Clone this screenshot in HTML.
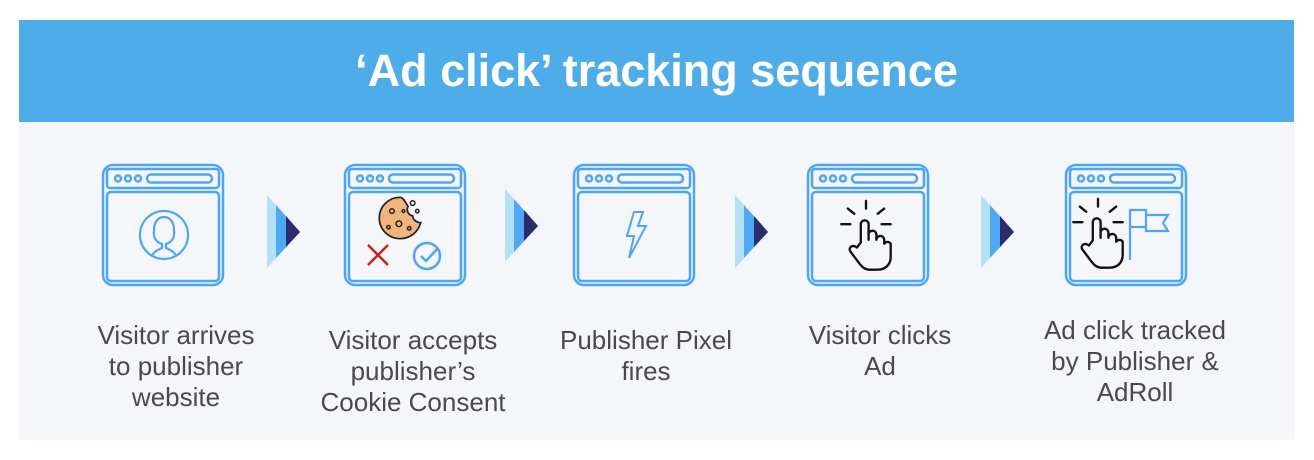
<!DOCTYPE html>
<html><head><meta charset="utf-8"><style>
body{margin:0;width:1314px;height:460px;background:#fff;position:relative;overflow:hidden;font-family:"Liberation Sans",sans-serif}
.hdr{position:absolute;left:19px;top:20px;width:1275px;height:102px;background:#4EACE8;color:#fff;font-weight:bold;font-size:45px;text-align:center;line-height:102px}
.body{position:absolute;left:19px;top:122px;width:1275px;height:318px;background:#F4F6FA}
.t{position:absolute;width:260px;text-align:center;font-size:26px;line-height:31px;color:#4a4a4a}
svg{position:absolute;left:0;top:0}
</style></head><body>
<div class="hdr">‘Ad click’ tracking sequence</div>
<div class="body"></div>
<svg width="1314" height="460">
<defs>
<g id="win" fill="none" stroke="#4DA6F5" stroke-width="2.5">
<rect x="0" y="0" width="120" height="120" rx="10"/>
<rect x="4" y="4" width="112" height="19" rx="3"/>
<rect x="4" y="27" width="112" height="89" rx="4"/>
<circle cx="15" cy="13.5" r="3"/><circle cx="25" cy="13.5" r="3"/><circle cx="35" cy="13.5" r="3"/>
<rect x="44" y="9.5" width="65" height="8" rx="4"/>
</g>
<g id="arr">
<polygon points="0,0 0,73 33,37" fill="#B3E0F5"/>
<polygon points="9,10 9,63 33,37" fill="#4EA8F3"/>
<polygon points="19,21 19,52 33,37" fill="#2B2C6B"/>
</g>
<g id="hand" fill="none" stroke="#111" stroke-width="1.8" stroke-linecap="round" stroke-linejoin="round">
<path d="M0,-18 v-6 M-9,-14 l-5,-4 M9,-14 l5,-4 M-12,-6 h-7 M12,-6 h7"/>
<path d="M-4,8 v-14 a3,3 0 0 1 6,0 v12 v-4 a3,3 0 0 1 6,0 v4 a3,3 0 0 1 6,0 v3 a3,3 0 0 1 5,0 v10 c0,6 -4,10 -10,10 h-6 c-4,0 -6,-2 -9,-6 l-6,-8 c-2,-3 2,-6 5,-3 z"/>
</g>
</defs>
<use href="#win" x="103" y="165"/>
<use href="#win" x="345" y="165"/>
<use href="#win" x="574" y="165"/>
<use href="#win" x="808" y="165"/>
<use href="#win" x="1066" y="165"/>
<use href="#arr" x="267" y="195"/>
<use href="#arr" x="505" y="189"/>
<use href="#arr" x="735" y="195"/>
<use href="#arr" x="981" y="195"/>
<g fill="none" stroke="#4DA6F5" stroke-width="2.2">
<circle cx="164" cy="235" r="24"/>
<path d="M152,256 c2,-5 6,-6 10,-8 v-4 c-6,-2 -9,-6 -8,-14 c0,-9 5,-13 10,-13 c5,0 10,4 10,13 c1,8 -2,12 -8,14 v4 c4,2 8,3 10,8"/>
</g>
<g transform="translate(400,218) scale(1.15) translate(-400,-218)">
<path d="M400,200 c-10,0 -18,8 -18,18 c0,10 8,18 18,18 c9,0 16,-6 18,-14 c-4,0 -7,-3 -7,-6 c-3,0 -6,-4 -4,-8 c-2,-3 -4,-8 -7,-8 z" fill="#F0B57A" stroke="#222" stroke-width="1.5"/>
<g fill="none" stroke="#222" stroke-width="1.3"><circle cx="393" cy="212" r="2"/><circle cx="399" cy="223" r="2.5"/><circle cx="390" cy="226" r="1.5"/><circle cx="403" cy="212" r="1.2"/><circle cx="411" cy="205" r="2"/><circle cx="415" cy="212" r="1.5"/><circle cx="408" cy="227" r="1.5"/></g>
</g>
<path d="M368,245 l20,20 M388,245 l-20,20" stroke="#C8231E" stroke-width="2.5"/>
<circle cx="427" cy="256" r="13" fill="none" stroke="#4DA6F5" stroke-width="2.5"/>
<path d="M421,256 l5,5 l12,-13" fill="none" stroke="#4DA6F5" stroke-width="2.5"/>
<path d="M634,212 h9 l-5,14 h8 l-17,32 l5,-22 h-7 z" fill="none" stroke="#4DA6F5" stroke-width="2"/>
<use href="#hand" transform="translate(866,232) scale(1.3)"/>
<use href="#hand" transform="translate(1098,230) scale(1.3)"/>
<g fill="none" stroke="#4DA6F5" stroke-width="2.2"><path d="M1130,260 v-50 h16 v17 h-16 M1146,215 h22 l-5,8 l5,8 h-22 v-4"/></g>
</svg>
<div class="t" style="left:46px;top:320px">Visitor arrives<br>to publisher<br>website</div>
<div class="t" style="left:283px;top:325px">Visitor accepts<br>publisher’s<br>Cookie Consent</div>
<div class="t" style="left:516px;top:325px">Publisher Pixel<br>fires</div>
<div class="t" style="left:750px;top:320px">Visitor clicks<br>Ad</div>
<div class="t" style="left:1005px;top:315px">Ad click tracked<br>by Publisher &amp;<br>AdRoll</div>
</body></html>
